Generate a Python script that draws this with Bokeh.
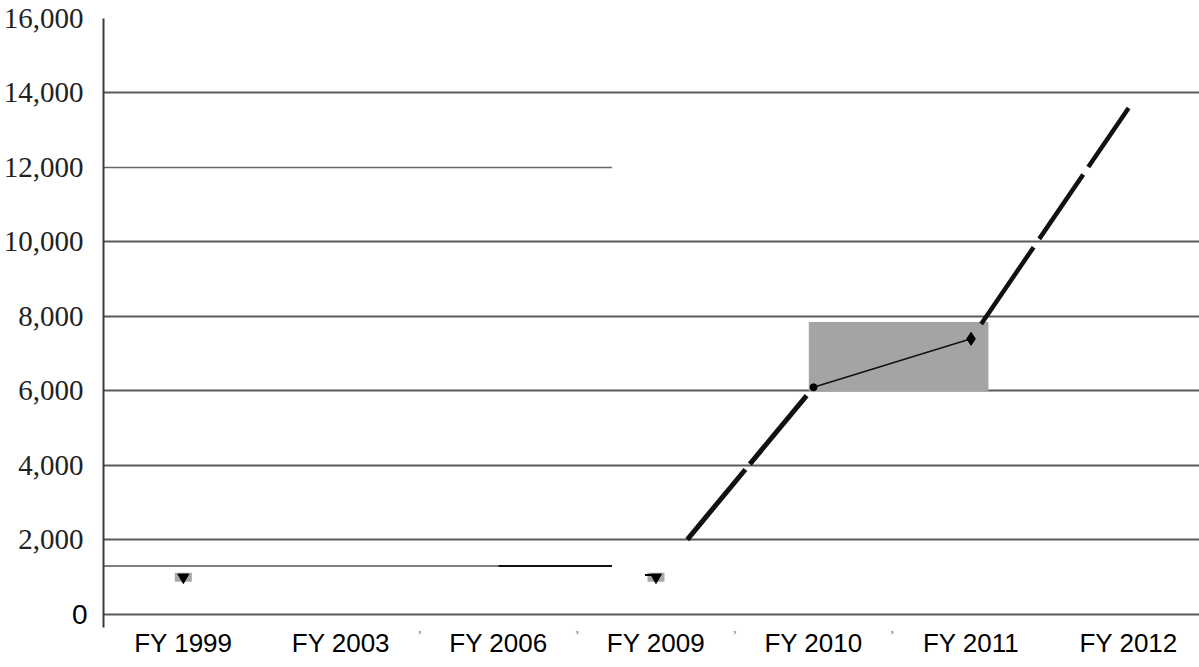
from bokeh.plotting import figure
from bokeh.models import Range1d, FixedTicker, LinearAxis
from bokeh.embed import file_html
from bokeh.resources import INLINE

# ---- data ----
categories = ["FY 1999", "FY 2003", "FY 2006", "FY 2009", "FY 2010", "FY 2011", "FY 2012"]
values = [1000, None, None, 1000, 6100, 7400, 13600]
y_ticks = [0, 2000, 4000, 6000, 8000, 10000, 12000, 14000, 16000]
y_tick_labels = ["0", "2,000", "4,000", "6,000", "8,000", "10,000", "12,000", "14,000", "16,000"]
flat_level = 1300                 # horizontal line on the left half
box_low, box_high = 6000, 7850    # grey highlight behind FY 2010 - FY 2011
boundary_marks = [1.5, 2.5, 3.5, 4.5]   # little commas under the axis

idx = list(range(len(categories)))

# ---- layout ----
x_start, x_end = -0.507, 6.45
left_half_end = 2.72

p = figure(width=1199, height=667, output_backend="svg", toolbar_location=None,
           x_range=Range1d(x_start, x_end), y_range=Range1d(-349, 16000),
           min_border_left=101, min_border_right=0, min_border_top=18, min_border_bottom=40)
p.outline_line_color = None
p.background_fill_color = "white"
p.border_fill_color = "white"

# grid
p.xgrid.visible = False
p.ygrid.ticker = FixedTicker(ticks=[t for t in y_ticks if t != 12000])
p.ygrid.grid_line_color = "#5a5a5a"
p.ygrid.grid_line_width = 2

# inner x axis: the comma marks
xa = p.xaxis[0]
xa.ticker = FixedTicker(ticks=boundary_marks)
xa.major_label_overrides = {b: "," for b in boundary_marks}
xa.axis_line_color = None
xa.major_tick_line_color = None
xa.minor_tick_line_color = None
xa.major_tick_out = 0
xa.major_label_standoff = -5
xa.major_label_text_font = "Liberation Serif"
xa.major_label_text_font_size = "14px"
xa.major_label_text_color = "#777777"

# outer x axis: category names
xc = LinearAxis(ticker=FixedTicker(ticks=idx),
                major_label_overrides={i: c for i, c in zip(idx, categories)})
xc.axis_line_color = None
xc.major_tick_line_color = None
xc.minor_tick_line_color = None
xc.major_tick_out = 0
xc.major_label_standoff = -8
xc.major_label_text_font = "Liberation Sans"
xc.major_label_text_font_size = "26px"
xc.major_label_text_color = "black"
p.add_layout(xc, "below")

# inner y axis: the "0" label (sans) and the axis line
ya = p.yaxis[0]
ya.ticker = FixedTicker(ticks=y_ticks[:1])
ya.major_label_overrides = {y_ticks[0]: y_tick_labels[0]}
ya.axis_line_color = "#3a3a3a"
ya.axis_line_width = 2
ya.major_tick_line_color = None
ya.minor_tick_line_color = None
ya.major_tick_out = 0
ya.major_label_standoff = 16
ya.major_label_text_font = "Liberation Sans"
ya.major_label_text_font_size = "28px"
ya.major_label_text_color = "black"

# outer y axis: the serif thousands labels
yb = LinearAxis(ticker=FixedTicker(ticks=y_ticks[1:]),
                major_label_overrides={t: l for t, l in zip(y_ticks[1:], y_tick_labels[1:])})
yb.axis_line_color = None
yb.major_tick_line_color = None
yb.minor_tick_line_color = None
yb.major_tick_out = 0
yb.major_label_standoff = -15
yb.major_label_text_font = "Liberation Serif"
yb.major_label_text_font_size = "29px"
yb.major_label_text_color = "#222222"
p.add_layout(yb, "left")

# partial gridline at 12,000 and the flat line near 1,300
p.segment(x0=[x_start, x_start], x1=[left_half_end, left_half_end],
          y0=[12000, flat_level], y1=[12000, flat_level],
          line_color=["#666666", "#555555"], line_width=[1.5, 1.5])
p.segment(x0=[2], x1=[left_half_end], y0=[flat_level], y1=[flat_level],
          line_color="#111111", line_width=2)

# grey highlight box
p.quad(left=[idx[4] - 0.03], right=[idx[5] + 0.11], bottom=[box_low], top=[box_high],
       fill_color="#a4a4a4", line_color=None)

# small grey patches behind the low markers
low_x = [idx[0], idx[3]]
low_y = [values[0], values[3]]
p.rect(x=low_x, y=low_y, width=17, height=9, width_units="screen", height_units="screen",
       fill_color="#a8a8a8", line_color=None)
p.inverted_triangle(x=low_x, y=low_y, size=11, color="black")
p.segment(x0=[idx[3] - 0.07], x1=[idx[3]], y0=[values[3] + 60], y1=[values[3] + 60],
          line_color="black", line_width=2)

# line pieces
p.line(x=[idx[3], idx[4]], y=[values[3], values[4]], line_color="#111111", line_width=5,
       line_dash="0 49 91 7 89 100")
p.line(x=[idx[4], idx[5]], y=[values[4], values[5]], line_color="#111111", line_width=1.6)
p.line(x=[idx[5], idx[6]], y=[values[5], values[6]], line_color="#111111", line_width=4.5,
       line_dash="0 18 93 10 78 9 73 60")

# markers on the upper points
p.scatter(x=[idx[4]], y=[values[4]], marker="circle", size=7, color="black")
p.scatter(x=[idx[5]], y=[values[5]], marker="diamond", size=13, color="black")

open("out.html", "w").write(file_html(p, INLINE))
